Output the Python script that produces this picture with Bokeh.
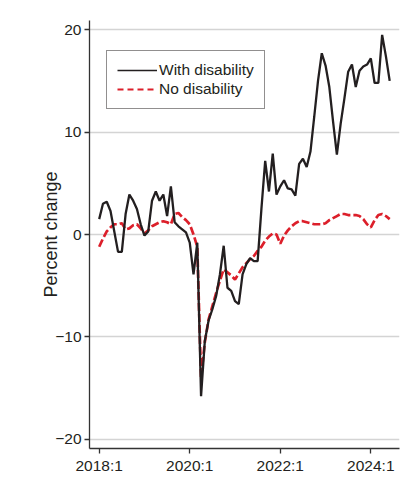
import numpy as np
from bokeh.plotting import figure
from bokeh.models import Range1d, FixedTicker, Legend, LegendItem
from bokeh.embed import file_html
from bokeh.resources import INLINE

# ---- data (monthly, 2018:1 .. 2024:6), percent change ----
start_year = 2018
with_disability = [
    1.5, 3.0, 3.2, 2.3, 0.3, -1.7, -1.7, 2.0, 3.9, 3.3, 2.5, 1.0,
    -0.1, 0.3, 3.3, 4.2, 3.3, 3.9, 1.8, 4.7, 1.2, 0.8, 0.5, 0.2,
    -0.8, -3.9, -0.8, -15.8, -10.4, -8.4, -7.3, -6.0, -3.9, -1.1, -5.2, -5.5,
    -6.5, -6.8, -3.9, -2.9, -2.3, -2.6, -2.6, 2.5, 7.2, 4.2, 7.9, 3.9,
    4.7, 5.3, 4.5, 4.4, 3.8, 6.9, 7.4, 6.6, 8.1, 11.5, 15.0, 17.7,
    16.5, 14.4, 11.0, 7.8, 10.8, 13.3, 15.9, 16.6, 14.4, 16.0, 16.4, 16.6,
    17.2, 14.8, 14.8, 19.5, 17.4, 15.0,
]
no_disability = [
    -1.2, -0.4, 0.3, 0.7, 1.0, 1.0, 1.1, 0.5, 0.6, 0.9, 1.0, 0.6,
    0.1, 0.4, 0.8, 1.0, 1.2, 1.3, 1.2, 1.0, 2.0, 2.1, 1.7, 1.4,
    1.0, 0.0, -1.2, -14.0, -10.5, -8.3, -7.0, -5.7, -4.5, -3.4, -3.7, -4.0,
    -4.4, -3.8, -3.2, -2.8, -2.4, -2.1, -1.6, -1.2, -0.6, -0.2, 0.1, 0.0,
    -0.9, -0.1, 0.4, 0.8, 1.1, 1.3, 1.3, 1.2, 1.1, 1.0, 1.0, 1.0,
    1.1, 1.4, 1.6, 1.8, 2.0, 2.0, 1.9, 1.9, 1.9, 1.8, 1.5, 1.0,
    0.7, 1.4, 1.9, 2.0, 1.8, 1.5,
]
months = [f"{start_year + i // 12}:{i % 12 + 1}" for i in range(len(with_disability))]
x_tick_labels = ["2018:1", "2020:1", "2022:1", "2024:1"]
y_ticks = [-20, -10, 0, 10, 20]
y_tick_labels = ["\u221220", "\u221210", "0", "10", "20"]
series_names = ["With disability", "No disability"]

x = list(range(len(months)))
x_ticks = [months.index(lbl) for lbl in x_tick_labels]

FONT = "Liberation Sans"
BLACK = "#231f20"
RED = "#dc1f2a"

p = figure(width=401, height=488, output_backend="svg", toolbar_location=None,
           x_range=Range1d(-2.57, 79.6), y_range=Range1d(-20.9, 20.9),
           min_border_left=89, min_border_right=2, min_border_top=20, min_border_bottom=40)
p.outline_line_color = None
p.background_fill_color = "white"
p.border_fill_color = "white"

# axes
p.xaxis.ticker = FixedTicker(ticks=x_ticks)
p.xaxis.major_label_overrides = {t: l for t, l in zip(x_ticks, x_tick_labels)}
p.yaxis.ticker = FixedTicker(ticks=y_ticks)
p.yaxis.major_label_overrides = {t: l for t, l in zip(y_ticks, y_tick_labels)}
for ax in (p.xaxis[0], p.yaxis[0]):
    ax.axis_line_color = "#333333"
    ax.axis_line_width = 1.3
    ax.major_tick_line_color = "#333333"
    ax.major_tick_line_width = 1.3
    ax.major_tick_out = 5
    ax.major_tick_in = 0
    ax.minor_tick_line_color = None
    ax.major_label_text_font = FONT
    ax.major_label_text_font_size = "15.5px"
    ax.major_label_text_color = BLACK
    ax.major_label_standoff = 3
p.yaxis.axis_label = "Percent change"
p.yaxis.axis_label_text_font = FONT
p.yaxis.axis_label_text_font_size = "18px"
p.yaxis.axis_label_text_font_style = "normal"
p.yaxis.axis_label_text_color = BLACK
p.yaxis.axis_label_standoff = -9

p.xgrid.grid_line_color = None
p.ygrid.grid_line_color = "#d4d4d4"
p.ygrid.grid_line_width = 1.3

# series
p.line(x, no_disability, line_color=RED, line_width=2.7, line_dash="8 3")
p.line(x, with_disability, line_color=BLACK, line_width=2.3)

# legend glyphs (thinner, like the reference key)
lg_black = p.line([np.nan], [np.nan], line_color=BLACK, line_width=1.5)
lg_red = p.line([np.nan], [np.nan], line_color=RED, line_width=2.2, line_dash="6 4")

legend = Legend(items=[LegendItem(label=series_names[0], renderers=[lg_black]),
                       LegendItem(label=series_names[1], renderers=[lg_red])],
                location=(17, 339))
legend.label_text_font = FONT
legend.label_text_font_size = "15.5px"
legend.label_text_color = BLACK
legend.glyph_width = 40
legend.glyph_height = 16
legend.label_height = 16
legend.label_standoff = 2
legend.spacing = 1
legend.padding = 10
legend.margin = 0
legend.border_line_color = BLACK
legend.border_line_width = 1.2
legend.background_fill_color = "white"
legend.background_fill_alpha = 1.0
p.add_layout(legend)

open("out.html", "w").write(file_html(p, INLINE))
